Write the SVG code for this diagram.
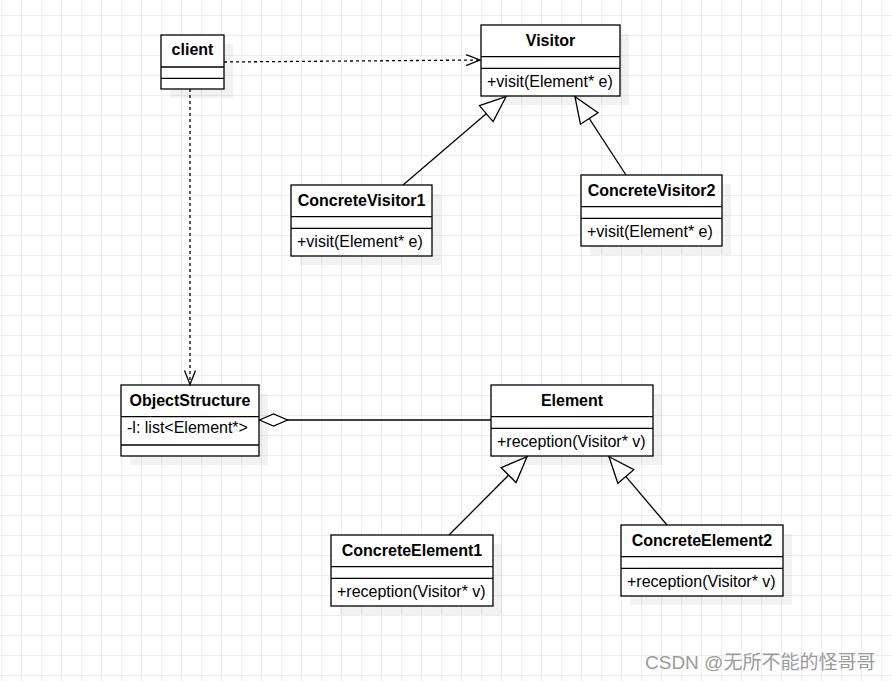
<svg xmlns="http://www.w3.org/2000/svg" width="892" height="681" viewBox="0 0 892 681">
  <defs>
    <pattern id="grid" patternUnits="userSpaceOnUse" x="1" y="15" width="20" height="20">
      <path d="M0 0.5 H20 M0.5 0 V20" fill="none" stroke="#eeeeee" stroke-width="1"/>
    </pattern>
    <marker id="open" markerUnits="userSpaceOnUse" viewBox="-16 -8 18 16" refX="0" refY="0" markerWidth="18" markerHeight="16" orient="auto">
      <path d="M-14 -5.5 L0 0 L-14 5.5" fill="none" stroke="#000" stroke-width="1.3"/>
    </marker>
    <marker id="tri" markerUnits="userSpaceOnUse" viewBox="-28 -13 30 26" refX="0" refY="0" markerWidth="30" markerHeight="26" orient="auto">
      <path d="M-26 -10.5 L0 0 L-26 10.5 Z" fill="#fff" stroke="#000" stroke-width="1.3"/>
    </marker>
    <marker id="dia" markerUnits="userSpaceOnUse" viewBox="-30 -8 32 16" refX="0" refY="0" markerWidth="32" markerHeight="16" orient="auto">
      <path d="M0 0 L-14 -6 L-28 0 L-14 6 Z" fill="#fff" stroke="#000" stroke-width="1.3"/>
    </marker>
  </defs>
  <style>
    .box { fill: #fff; stroke: #000; stroke-width: 1.3; }
    .sh { fill: #000; opacity: 0.05; }
    .div { stroke: #000; stroke-width: 1.3; }
    .t { font-family: "Liberation Sans", Arial, sans-serif; font-size: 16px; fill: #000; }
    .b { font-weight: bold; text-anchor: middle; }
    .ln { fill: none; stroke: #000; stroke-width: 1.3; }
    .dash { stroke-dasharray: 3 3; }
  </style>
  <rect width="892" height="681" fill="#fff"/>
  <rect width="892" height="681" fill="url(#grid)"/>

  <g id="client">
    <rect class="sh" x="170" y="44" width="63" height="54"/>
    <rect class="box" x="161" y="35" width="63" height="54"/>
    <line class="div" x1="161" y1="67" x2="224" y2="67"/>
    <line class="div" x1="161" y1="78.3" x2="224" y2="78.3"/>
    <text class="t b" x="192.5" y="55">client</text>
  </g>

  <g id="visitor">
    <rect class="sh" x="490" y="34" width="139" height="71"/>
    <rect class="box" x="481" y="25" width="139" height="71"/>
    <line class="div" x1="481" y1="56.7" x2="620" y2="56.7"/>
    <line class="div" x1="481" y1="68.3" x2="620" y2="68.3"/>
    <text class="t b" x="550.5" y="45.5">Visitor</text>
    <text class="t" x="487" y="86.5">+visit(Element* e)</text>
  </g>

  <g id="concretevisitor1">
    <rect class="sh" x="300" y="194" width="141" height="71"/>
    <rect class="box" x="291" y="185" width="141" height="71"/>
    <line class="div" x1="291" y1="216.7" x2="432" y2="216.7"/>
    <line class="div" x1="291" y1="228.3" x2="432" y2="228.3"/>
    <text class="t b" x="361.5" y="205.5">ConcreteVisitor1</text>
    <text class="t" x="297" y="246.5">+visit(Element* e)</text>
  </g>

  <g id="concretevisitor2">
    <rect class="sh" x="590" y="184" width="141" height="71"/>
    <rect class="box" x="581" y="175" width="141" height="71"/>
    <line class="div" x1="581" y1="206.7" x2="722" y2="206.7"/>
    <line class="div" x1="581" y1="218.3" x2="722" y2="218.3"/>
    <text class="t b" x="651.5" y="195.5">ConcreteVisitor2</text>
    <text class="t" x="587" y="236.5">+visit(Element* e)</text>
  </g>

  <g id="objectstructure">
    <rect class="sh" x="130" y="394" width="138" height="71"/>
    <rect class="box" x="121" y="385" width="138" height="71"/>
    <line class="div" x1="121" y1="416.7" x2="259" y2="416.7"/>
    <line class="div" x1="121" y1="445" x2="259" y2="445"/>
    <text class="t b" x="190" y="405.5">ObjectStructure</text>
    <text class="t" x="127" y="432.5">-l: list&lt;Element*&gt;</text>
  </g>

  <g id="element">
    <rect class="sh" x="500" y="394" width="162" height="71"/>
    <rect class="box" x="491" y="385" width="162" height="71"/>
    <line class="div" x1="491" y1="416.7" x2="653" y2="416.7"/>
    <line class="div" x1="491" y1="428.3" x2="653" y2="428.3"/>
    <text class="t b" x="572" y="405.5">Element</text>
    <text class="t" x="497" y="446.5">+reception(Visitor* v)</text>
  </g>

  <g id="concreteelement1">
    <rect class="sh" x="340" y="544" width="162" height="71"/>
    <rect class="box" x="331" y="535" width="162" height="71"/>
    <line class="div" x1="331" y1="566.7" x2="493" y2="566.7"/>
    <line class="div" x1="331" y1="578.3" x2="493" y2="578.3"/>
    <text class="t b" x="412" y="555.5">ConcreteElement1</text>
    <text class="t" x="337" y="596.5">+reception(Visitor* v)</text>
  </g>

  <g id="concreteelement2">
    <rect class="sh" x="630" y="534" width="162" height="71"/>
    <rect class="box" x="621" y="525" width="162" height="71"/>
    <line class="div" x1="621" y1="556.7" x2="783" y2="556.7"/>
    <line class="div" x1="621" y1="568.3" x2="783" y2="568.3"/>
    <text class="t b" x="702" y="545.5">ConcreteElement2</text>
    <text class="t" x="627" y="586.5">+reception(Visitor* v)</text>
  </g>

  <g id="connectors">
    <path class="ln dash" d="M224 62 L480 60" marker-end="url(#open)"/>
    <path class="ln dash" d="M190 89 L190 384.5" marker-end="url(#open)"/>
    <path class="ln" d="M403 185 L506 96.7" marker-end="url(#tri)"/>
    <path class="ln" d="M626 175 L575 96.7" marker-end="url(#tri)"/>
    <path class="ln" d="M491 420 L259.5 420" marker-end="url(#dia)"/>
    <path class="ln" d="M449 535 L527 456.7" marker-end="url(#tri)"/>
    <path class="ln" d="M667 525 L609 456.7" marker-end="url(#tri)"/>
  </g>

  <text x="645" y="669" font-family="Liberation Sans, 'Noto Sans CJK SC', sans-serif" font-size="19" fill="#9a9a9a">CSDN @无所不能的怪哥哥</text>
</svg>
